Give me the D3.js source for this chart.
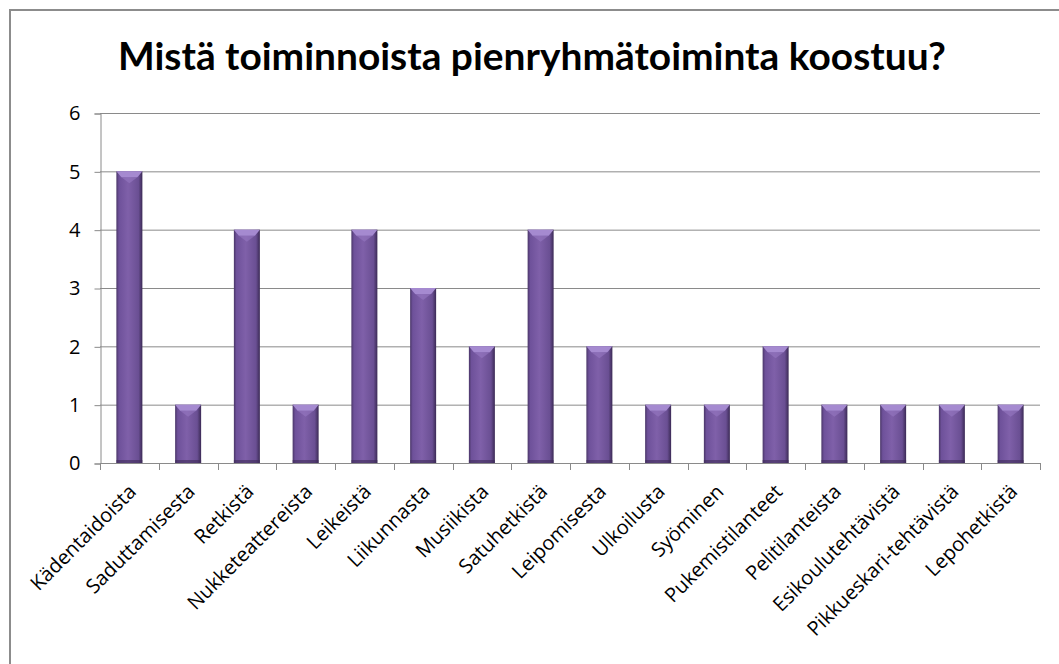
<!DOCTYPE html>
<html>
<head>
<meta charset="utf-8">
<script src="https://cdn.jsdelivr.net/npm/d3@7/dist/d3.min.js"></script>
<style>
  html, body { margin: 0; padding: 0; background: #fff; }
  svg { display: block; }
</style>
</head>
<body>
<div id="main"></div>
<script>
// chart data
var categories = ['Kädentaidoista', 'Saduttamisesta', 'Retkistä', 'Nukketeattereista', 'Leikeistä',
  'Liikunnasta', 'Musiikista', 'Satuhetkistä', 'Leipomisesta', 'Ulkoilusta', 'Syöminen',
  'Pukemistilanteet', 'Pelitilanteista', 'Esikoulutehtävistä', 'Pikkueskari-tehtävistä', 'Lepohetkistä'];
var counts = [5, 1, 4, 1, 4, 3, 2, 4, 2, 1, 1, 2, 1, 1, 1, 1];
var yTicks = [0, 1, 2, 3, 4, 5, 6];
var title = 'Mistä toiminnoista pienryhmätoiminta koostuu?';

var svgWidth = 1059, svgHeight = 664;
var plot = {left: 100, right: 1040, top: 113, bottom: 463};
var labelFont = '"Open Sans", Lato, sans-serif';

var svg = d3.select('#main').append('svg')
  .attr('width', svgWidth)
  .attr('height', svgHeight);

// bar gradient
var defs = svg.append('defs');
var grad = defs.append('linearGradient').attr('id', 'barGrad')
  .attr('x1', '0%').attr('x2', '100%').attr('y1', '0%').attr('y2', '0%');
[['0%', '#4a3668'], ['10%', '#6e519a'], ['45%', '#7f60a9'], ['85%', '#6a4f93'], ['100%', '#3b2a55']]
  .forEach(function(s){ grad.append('stop').attr('offset', s[0]).attr('stop-color', s[1]); });

// outer frame
svg.append('rect')
  .attr('x', 10).attr('y', 10)
  .attr('width', 1100).attr('height', 700)
  .attr('fill', '#fff')
  .attr('stroke', '#8c8c8c')
  .attr('stroke-width', 2);

svg.append('text')
  .text(title)
  .attr('x', 118).attr('y', 70)
  .attr('textLength', 828)
  .attr('lengthAdjust', 'spacingAndGlyphs')
  .style('font-family', 'Lato, "Open Sans", sans-serif')
  .style('font-weight', 'bold')
  .style('font-size', '38px')
  .style('fill', '#000');

var x = d3.scaleBand().domain(categories).range([plot.left, plot.right]).paddingInner(0).paddingOuter(0);
var y = d3.scaleLinear().domain([0, 6]).range([plot.bottom, plot.top]);

// gridlines
svg.append('g').selectAll('line')
  .data(yTicks.slice(1))
  .enter().append('line')
  .attr('x1', plot.left).attr('x2', plot.right)
  .attr('y1', function(d){ return y(d) + 0.5; })
  .attr('y2', function(d){ return y(d) + 0.5; })
  .attr('stroke', '#8a8a8a').attr('stroke-width', 1);

// y axis
var yAxis = svg.append('g')
  .attr('transform', 'translate(' + (plot.left + 0.5) + ',0.5)')
  .call(d3.axisLeft(y).tickValues(yTicks).tickSize(6).tickPadding(14).tickFormat(d3.format('d')));
yAxis.select('.domain').attr('stroke', '#8a8a8a');
yAxis.selectAll('.tick line').attr('stroke', '#8a8a8a');
yAxis.selectAll('text')
  .style('font-family', labelFont)
  .style('font-size', '20px')
  .style('fill', '#000');

// x axis line + ticks at band edges
var xg = svg.append('g');
xg.append('line')
  .attr('x1', plot.left).attr('x2', plot.right)
  .attr('y1', plot.bottom + 0.5).attr('y2', plot.bottom + 0.5)
  .attr('stroke', '#8a8a8a');
var edges = categories.map(function(c){ return x(c); }).concat([plot.right]);
xg.selectAll('line.tk')
  .data(edges)
  .enter().append('line')
  .attr('class', 'tk')
  .attr('x1', function(d){ return Math.round(d) + 0.5; })
  .attr('x2', function(d){ return Math.round(d) + 0.5; })
  .attr('y1', plot.bottom).attr('y2', plot.bottom + 7)
  .attr('stroke', '#8a8a8a');

// bars
var barW = 26;
var bars = svg.append('g').selectAll('g')
  .data(counts)
  .enter().append('g')
  .attr('transform', function(d, i){
    return 'translate(' + (x(categories[i]) + x.bandwidth() / 2 - barW / 2) + ',0)';
  });

bars.append('rect')
  .attr('x', 0).attr('width', barW)
  .attr('y', function(d){ return y(d); })
  .attr('height', function(d){ return y(0) - y(d); })
  .attr('fill', 'url(#barGrad)');

// top bevel
bars.append('path')
  .attr('d', function(d){
    var t = y(d);
    return 'M0,' + t + 'L' + barW + ',' + t + 'L' + (barW - 5) + ',' + (t + 6) + 'L5,' + (t + 6) + 'Z';
  })
  .attr('fill', '#a58ad0');
bars.append('path')
  .attr('d', function(d){
    var t = y(d);
    return 'M5,' + (t + 6) + 'L' + (barW - 5) + ',' + (t + 6) + 'L' + (barW / 2) + ',' + (t + 12) + 'Z';
  })
  .attr('fill', '#9678c2').attr('opacity', 0.6);

// bottom shade
bars.append('rect')
  .attr('x', 0).attr('width', barW)
  .attr('y', y(0) - 3).attr('height', 3)
  .attr('fill', '#3e2c58').attr('opacity', 0.6);

// x labels
svg.append('g').selectAll('text')
  .data(categories)
  .enter().append('text')
  .text(function(d){ return d; })
  .attr('text-anchor', 'end')
  .attr('transform', function(d){
    return 'translate(' + (x(d) + x.bandwidth() / 2 + 8) + ',' + (plot.bottom + 30) + ') rotate(-45)';
  })
  .style('font-family', labelFont)
  .style('font-size', '20px')
  .style('fill', '#000');
</script>
</body>
</html>
